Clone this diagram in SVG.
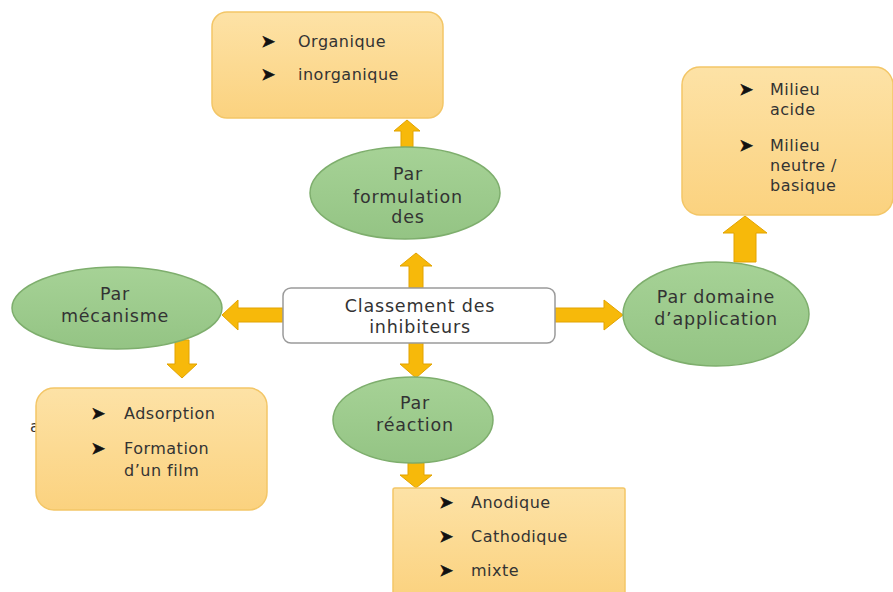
<svg xmlns="http://www.w3.org/2000/svg" width="893" height="592" viewBox="0 0 893 592">
<defs>
<linearGradient id="og" x1="0" y1="0" x2="0" y2="1">
<stop offset="0" stop-color="#fde2a6"/>
<stop offset="1" stop-color="#fbd27f"/>
</linearGradient>
<linearGradient id="gg" x1="0" y1="0" x2="0" y2="1">
<stop offset="0" stop-color="#a6d296"/>
<stop offset="1" stop-color="#94c484"/>
</linearGradient>
</defs>
<style>
text{font-family:"DejaVu Sans","Liberation Sans",sans-serif;fill:#333;font-size:17.5px;letter-spacing:0.8px}
.c{text-anchor:middle}
.b{font-size:16px;letter-spacing:0.5px}
.k{font-size:17px;fill:#111;stroke:#111;stroke-width:0.6}
.box{fill:url(#og);stroke:#f3c667;stroke-width:1.5}
.ell{fill:url(#gg);stroke:#7eae6d;stroke-width:1.5}
.arr{fill:#f7b90a;stroke:#e2a300;stroke-width:1}
</style>
<rect width="893" height="592" fill="#fff"/>
<text x="30" y="432" class="b">a</text>
<g id="connectors">
<path class="arr" d="M401,147 V131 H394 L407,120 L420,131 H413 V147 Z"/>
<path class="arr" d="M409,288 V266 H400 L416,253 L432,266 H423 V288 Z"/>
<path class="arr" d="M409,342 V364 H400 L416,378 L432,364 H423 V342 Z"/>
<path class="arr" d="M408,463 V475 H400 L416,488 L432,475 H424 V463 Z"/>
<path class="arr" d="M283,308 H238 V300 L222,315 L238,330 V322 H283 Z"/>
<path class="arr" d="M555,308 H604 V300 L623,315 L604,330 V322 H555 Z"/>
<path class="arr" d="M175,340 V364 H167 L182,378 L197,364 H189 V340 Z"/>
<path class="arr" d="M734,262 V233 H723 L745,216 L767,233 H756 V262 Z"/>
</g>
<g id="top-box">
<rect class="box" x="212" y="12" width="231" height="106" rx="15"/>
<text x="261" y="47" class="k">➤</text><text x="298" y="47" class="b">Organique</text>
<text x="261" y="80" class="k">➤</text><text x="298" y="80" class="b">inorganique</text>
</g>
<g id="formulation">
<ellipse class="ell" cx="405" cy="193" rx="95" ry="46"/>
<text x="408" y="180" class="c">Par</text>
<text x="408" y="203" class="c">formulation</text>
<text x="408" y="223" class="c">des</text>
</g>
<g id="center">
<rect x="283" y="288" width="272" height="55" rx="8" fill="#fff" stroke="#9a9a9a" stroke-width="1.5"/>
<text x="420" y="312" class="c">Classement des</text>
<text x="420" y="333" class="c">inhibiteurs</text>
</g>
<g id="mecanisme">
<ellipse class="ell" cx="117" cy="308" rx="105" ry="41"/>
<text x="115" y="300" class="c">Par</text>
<text x="115" y="322" class="c">mécanisme</text>
</g>
<g id="adsorption-box">
<rect class="box" x="36" y="388" width="231" height="122" rx="18"/>
<text x="91" y="419" class="k">➤</text><text x="124" y="419" class="b">Adsorption</text>
<text x="91" y="454" class="k">➤</text><text x="124" y="454" class="b">Formation</text>
<text x="124" y="476" class="b">d’un film</text>
</g>
<g id="reaction">
<ellipse class="ell" cx="413" cy="420" rx="80" ry="43"/>
<text x="415" y="409" class="c">Par</text>
<text x="415" y="431" class="c">réaction</text>
</g>
<g id="reaction-box">
<rect class="box" x="393" y="488" width="232" height="110" rx="2"/>
<text x="439" y="508" class="k">➤</text><text x="471" y="508" class="b">Anodique</text>
<text x="439" y="542" class="k">➤</text><text x="471" y="542" class="b">Cathodique</text>
<text x="439" y="576" class="k">➤</text><text x="471" y="576" class="b">mixte</text>
</g>
<g id="domaine">
<ellipse class="ell" cx="716" cy="314" rx="93" ry="52"/>
<text x="716" y="303" class="c">Par domaine</text>
<text x="716" y="325" class="c">d’application</text>
</g>
<g id="milieu-box">
<rect class="box" x="682" y="67" width="211" height="148" rx="18"/>
<text x="739" y="95" class="k">➤</text><text x="770" y="95" class="b">Milieu</text>
<text x="770" y="115" class="b">acide</text>
<text x="739" y="151" class="k">➤</text><text x="770" y="151" class="b">Milieu</text>
<text x="770" y="171" class="b">neutre /</text>
<text x="770" y="191" class="b">basique</text>
</g>
</svg>
